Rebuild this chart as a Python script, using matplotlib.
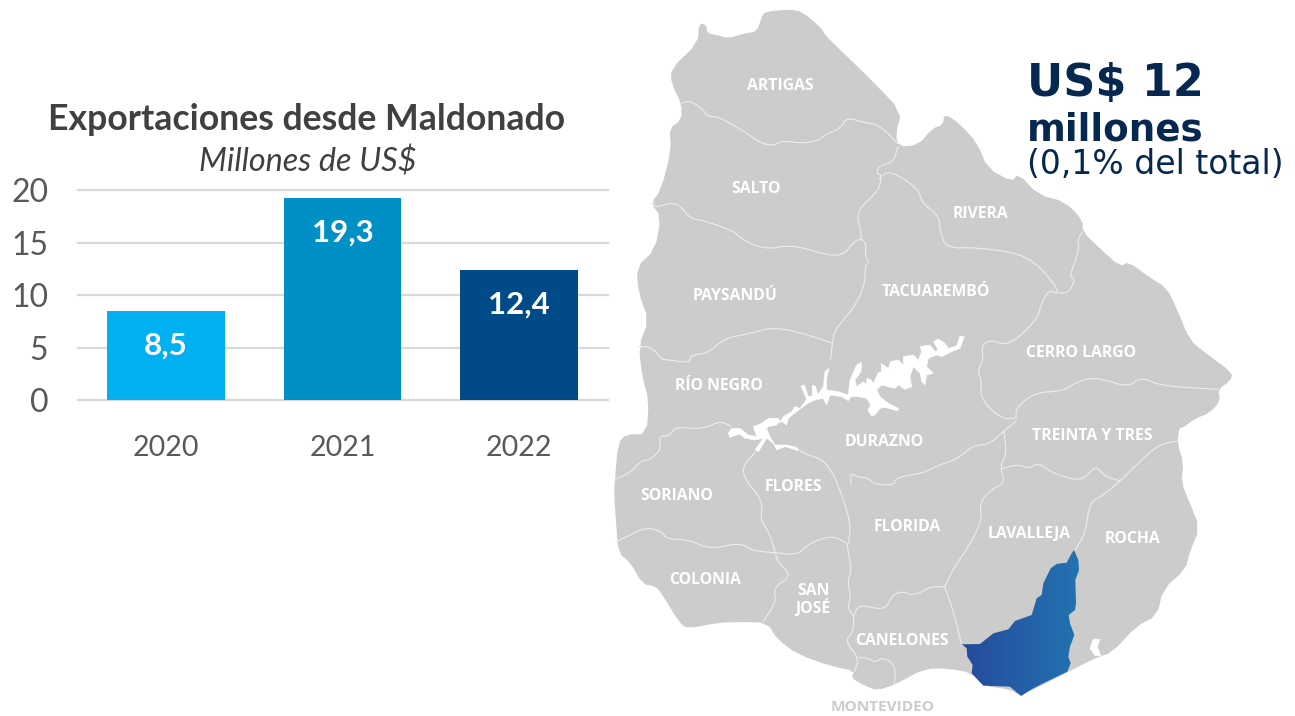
import numpy as np
import matplotlib
matplotlib.use("Agg")
import matplotlib.pyplot as plt
from matplotlib.patches import Polygon
from matplotlib.colors import LinearSegmentedColormap

# ---- chart data ----
years = ["2020", "2021", "2022"]
exports = [8.5, 19.3, 12.4]
value_labels = ["8,5", "19,3", "12,4"]
bar_colors = ["#00B0F0", "#0090C6", "#004B87"]
y_ticks = [0, 5, 10, 15, 20]

# ---- department labels ----
departments = [
    ("ARTIGAS", 780, 86), ("SALTO", 756, 189), ("RIVERA", 981, 214), ("PAYSANDÚ", 735, 296),
    ("TACUAREMBÓ", 936, 292), ("CERRO LARGO", 1081, 353), ("RÍO NEGRO", 719, 386),
    ("DURAZNO", 884, 442), ("TREINTA Y TRES", 1092, 436), ("SORIANO", 677, 496),
    ("FLORES", 793, 487), ("FLORIDA", 907, 527), ("LAVALLEJA", 1029, 534), ("ROCHA", 1132, 539),
    ("COLONIA", 705, 580), ("SAN\nJOSÉ", 813, 600), ("CANELONES", 902, 641),
]

def north(pts):
    return [(610 + x / 2.45, y / 3) for x, y in pts]

def south(pts):
    return [(610 + x / 2.45, 356 + y / 3) for x, y in pts]

def crop(pts, ox, oy):
    return [(ox + x / 3, oy + y / 3) for x, y in pts]

def chaikin(pts, closed=False, n=1):
    p = np.array(pts, float)
    for _ in range(n):
        if closed:
            a, b = p, np.roll(p, -1, axis=0)
        else:
            a, b = p[:-1], p[1:]
        q = np.empty((2 * len(a), 2))
        q[0::2] = 0.75 * a + 0.25 * b
        q[1::2] = 0.25 * a + 0.75 * b
        if not closed:
            q = np.vstack([p[0], q, p[-1]])
        p = q
    return p

outline = north([(218,70),(236,75),(238,100),(262,105),(290,115),(330,100),(360,95),(372,50),(380,35),(440,28),(470,35),
    (515,80),(530,110),(590,180),(640,240),(715,335),(700,400),(707,440),(755,435),(790,385),(815,375),(820,340),
    (860,375),(900,430),(925,505),(985,545),(1000,520),(1050,585),(1115,605),(1158,660),(1158,695),(1200,745),
    (1250,800),(1270,785),(1320,830),(1365,865),(1390,930),(1420,1020),(1460,1060)]) + south([
    (1525,50),(1520,75),(1490,100),(1495,135),(1470,170),(1430,190),(1405,215),(1395,215),(1390,260),(1405,320),(1400,380),
    (1420,440),(1445,515),(1420,590),(1410,640),(1355,700),(1340,780),(1290,810),(1230,890),(1190,905),
    (1120,950),(1005,1020),(980,1000),(915,990),(885,950),(830,938),(770,938),(700,985),(655,1003),(625,990),
    (590,965),(600,945),(540,930),(460,895),(410,850),(385,800),(320,798),(265,800),(190,818),(170,800),
    (125,710),(110,690),(80,685),(50,620),(20,590),(15,500),(10,420),(12,370),(20,260),(40,235),(90,235),
    (95,130),(80,70)]) + north([(70,1040),(95,960),(70,880),(65,800),(110,750),(125,650),(100,610),(125,570),
    (150,450),(145,385),(175,360),(175,310),(150,250),(150,205),(215,130)])

borders = [
    north([(175,310),(195,302),(225,325),(240,350),(265,350),(330,395),(370,430),(400,437),(420,422),(470,430),(510,422),
           (525,405),(565,385),(580,352),(620,367),(660,375),(705,430)]),
    north([(100,610),(115,622),(150,607),(175,620),(195,655),(240,665),(305,695),(320,715),(365,742),(405,745),(420,738),
           (465,740),(520,762),(570,768),(600,722),(615,718)]),
    north([(705,440),(695,485),(655,500),(655,525),(665,520),(660,570),(615,620),(605,655),(615,690),(615,718),(628,730),
           (625,770),(635,785),(625,800),(625,850),(600,920),(550,990),(545,1030),(540,1080)]),
    north([(660,535),(685,510),(755,565),(765,610),(805,645),(810,700),(825,745),(900,742),(1025,765),(1095,860),(1095,880),
           (1125,878),(1140,835),(1125,830),(1150,750),(1145,720),(1158,695)]),
    north([(1095,880),(1075,870),(1055,915),(1050,950),(1000,1015),(965,1035),(935,1020),(910,1035),(915,1080)]) +
    south([(900,45),(910,70),(908,130),(960,190),(995,185)]),
    north([(545,1030),(500,1010),(405,980),(345,1000),(280,1015),(240,1060),(200,1065),(195,1080)]) + south([(195,20),(130,10)]),
    north([(70,1040),(100,1040),(130,1080)]) + south([(130,10)]),
    south([(12,370),(50,350),(75,315),(100,310),(125,280),(120,240),(145,240),(160,212),(225,220),(270,195),(295,210)]),
    south([(355,290),(325,330),(330,370),(375,435),(368,490),(390,530),(405,590)]),
    south([(460,280),(480,295),(520,310),(545,350),(560,390),(590,500),(585,560)]),
    south([(15,558),(60,530),(90,515),(125,525),(140,550),(190,550),(245,580),(320,560),(350,585),(405,590),(460,597),
           (490,560),(545,538),(580,562)]),
    south([(405,590),(410,615),(445,660),(400,695),(408,735),(375,798)]),
    south([(580,562),(592,640),(582,680),(590,720),(582,755),(597,780)]),
    south([(597,780),(597,825),(575,855),(610,905),(600,945)]),
    south([(597,780),(610,745),(660,760),(680,750),(690,720),(715,705),(745,720),(785,692),(820,692)]),
    south([(590,385),(590,350),(610,365),(630,365),(650,385),(695,388),(700,365),(770,350),(800,330),(850,310),(890,268),
           (930,265),(965,225),(995,195)]),
    south([(965,225),(972,295),(955,330),(968,380),(935,400),(905,440),(912,490),(880,570),(840,640),(820,692)]),
    south([(820,692),(845,780),(860,860)]),
    south([(960,338),(1000,325),(1025,338),(1050,320),(1085,352),(1140,372),(1165,365),(1190,328),(1210,360),(1250,375)]),
    south([(1140,582),(1165,530),(1175,440),(1205,420),(1250,375),(1295,320),(1345,265),(1390,255)]),
    south([(995,185),(995,155),(1040,110),(1110,105),(1140,80),(1190,62),(1270,95),(1300,62),(1350,90),(1490,100)]),
    south([(610,905),(630,905),(650,920),(670,903),(700,930),(697,985)]),
]

lake = crop([(10,310),(20,295),(45,295),(70,315),(95,320),(85,290),(110,280),(130,265),(160,265),(165,280),(175,260),
    (200,245),(210,230),(225,235),(245,208),(228,168),(238,165),(250,200),(262,198),(262,165),(272,170),(278,195),
    (295,170),(300,125),(312,115),(305,145),(305,180),(340,185),(370,195),(375,150),(395,105),(410,97),(408,125),
    (390,150),(395,170),(415,155),(425,165),(425,145),(438,150),(445,160),(460,128),(470,125),(468,100),(490,115),
    (497,95),(520,90),(535,105),(535,80),(565,75),(580,90),(590,65),(585,50),(615,45),(630,65),(640,60),(625,35),
    (640,27),(660,40),(670,55),(695,48),(705,18),(718,20),(705,55),(680,65),(650,80),(635,75),(610,85),(605,110),
    (625,130),(605,135),(600,165),(590,155),(585,130),(565,110),(555,140),(560,170),(540,178),(520,165),(510,175),
    (490,170),(470,165),(455,180),(465,200),(490,220),(520,235),(518,243),(480,232),(465,235),(450,255),(440,258),
    (428,240),(438,225),(425,205),(400,200),(378,200),(370,212),(350,200),(315,195),(305,225),(295,205),(270,210),
    (248,220),(215,245),(190,265),(185,285),(165,270),(155,285),(130,290),(125,295),(135,320),(150,345),(185,345),
    (215,352),(220,362),(180,350),(155,360),(145,340),(125,325),(100,365),(90,360),(115,325),(90,330),(60,325),
    (45,312),(15,322)], 725, 330)
lagoon = crop([(430,297),(450,298),(442,320),(452,347),(435,347),(420,325)], 950, 540)
maldonado = crop([(372,30),(385,60),(387,90),(376,120),(378,190),(375,210),(356,225),(360,250),(373,285),(360,320),
    (355,350),(362,370),(352,395),(300,420),(250,445),(213,468),(180,440),(100,437),(65,400),(68,375),(52,350),(50,325),
    (36,313),(90,312),(130,280),(175,268),(195,243),(245,225),(260,175),(275,165),(280,130),(302,85),(320,72),(350,68),
    (365,40)], 950, 540)

W, H = 1295, 716
fig = plt.figure(figsize=(W / 100, H / 100), dpi=100, facecolor="white")

# ---- map layer ----
mp = fig.add_axes([0, 0, 1, 1])
mp.set_xlim(0, W)
mp.set_ylim(H, 0)
mp.axis("off")
mp.add_patch(Polygon(chaikin(outline, closed=True), closed=True, fc="#CCCCCC", ec="none", zorder=1))
for b in borders:
    arr = chaikin(b, n=2)
    mp.plot(arr[:, 0], arr[:, 1], color="#EDEDED", lw=0.8, zorder=2, solid_joinstyle="round")
for shape in (lake, lagoon):
    mp.add_patch(Polygon(shape, closed=True, fc="white", ec="white", lw=0.4, joinstyle="round", zorder=3))

mald = np.array(maldonado)
clip = Polygon(mald, closed=True, fc="none", ec="none", transform=mp.transData)
mp.add_patch(clip)
cmap = LinearSegmentedColormap.from_list("mald", ["#264A9C", "#2273B0"])
grad = np.linspace(0, 1, 256).reshape(1, -1)
im = mp.imshow(grad, cmap=cmap, aspect="auto", zorder=4,
               extent=(mald[:, 0].min(), mald[:, 0].max(), mald[:, 1].max(), mald[:, 1].min()))
im.set_clip_path(clip)
mp.set_xlim(0, W)
mp.set_ylim(H, 0)

for name, x, y in departments:
    mp.text(x, y, name, color="white", fontsize=11.3, fontweight="bold", family="Open Sans",
            ha="center", va="center", linespacing=1.0, zorder=5)
mp.text(883, 707, "MONTEVIDEO", color="#CCCCCC", fontsize=11.1, fontweight="bold", family="Open Sans",
        ha="center", va="center", zorder=5)

navy = "#06274F"
mp.text(1027, 84, "US$ 12", color=navy, fontsize=32, fontweight="bold", family="DejaVu Sans", ha="left", va="center", zorder=5)
mp.text(1027, 130, "millones", color=navy, fontsize=26.8, fontweight="bold", family="DejaVu Sans", ha="left", va="center", zorder=5)
mp.text(1027, 165, "(0,1% del total)", color=navy, fontsize=23.8, family="DejaVu Sans", ha="left", va="center", zorder=5)

# ---- bar chart ----
x0, x1, ytop, ybot = 77.5, 607.5, 190.5, 400
ax = fig.add_axes([x0 / W, 1 - ybot / H, (x1 - x0) / W, (ybot - ytop) / H])
ax.patch.set_alpha(0)
pos = np.arange(len(years))
bars = ax.bar(pos, exports, width=0.667, color=bar_colors, zorder=3)
ax.set_xlim(-0.5, 2.5)
ax.set_ylim(0, 20)
ax.set_xticks(pos, years)
ax.set_yticks(y_ticks)
ax.grid(axis="y", color="#D9D9D9", lw=1.6, zorder=0)
ax.set_axisbelow(True)
for line in ax.get_ygridlines():
    line.set_clip_on(False)
for s in ax.spines.values():
    s.set_visible(False)
ax.tick_params(axis="both", length=0, labelcolor="#595959")
ax.tick_params(axis="x", pad=25, labelsize=20.5)
ax.tick_params(axis="y", pad=21, labelsize=23)
for lab in ax.get_xticklabels() + ax.get_yticklabels():
    lab.set_family("Lato")
for rect, lab in zip(bars, value_labels):
    ax.annotate(lab, (rect.get_x() + rect.get_width() / 2, rect.get_height()), xytext=(0, -25),
                textcoords="offset points", ha="center", va="center", color="white",
                fontsize=22.5, fontweight="bold", family="Lato", zorder=4)

fig.text(307 / W, 1 - 120 / H, "Exportaciones desde Maldonado", ha="center", va="center",
         fontsize=25.7, fontweight="bold", color="#404040", family="Lato")
fig.text(307.5 / W, 1 - 162 / H, "Millones de US$", ha="center", va="center",
         fontsize=23.3, style="italic", color="#404040", family="Lato")

fig.savefig("out.png", dpi=100, facecolor="white")
